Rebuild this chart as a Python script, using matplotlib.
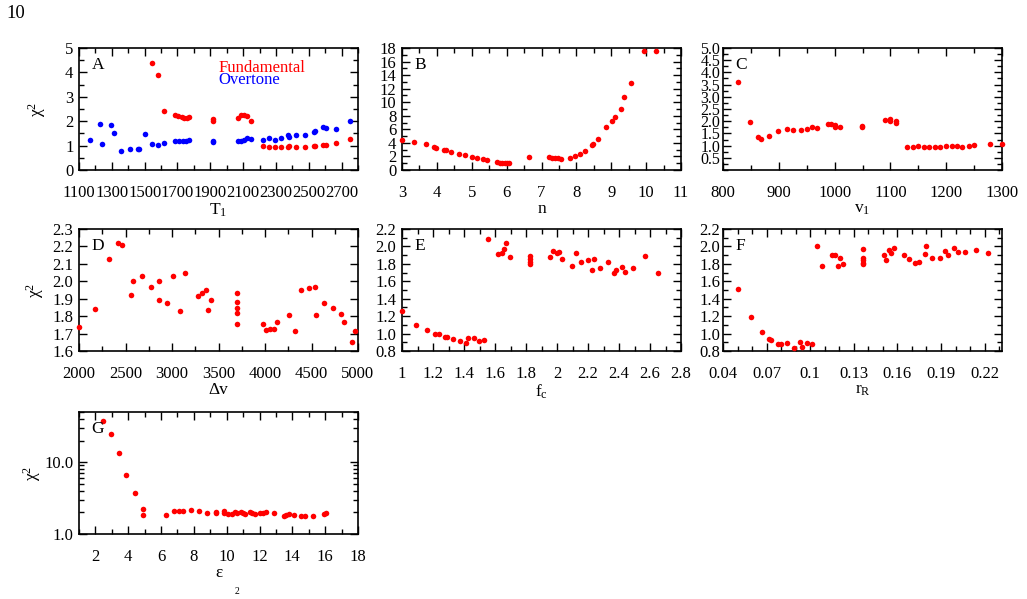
import numpy as np
import matplotlib
matplotlib.use("Agg")
import matplotlib.pyplot as plt
from matplotlib.ticker import MultipleLocator, FixedLocator, LogLocator, NullFormatter, FixedFormatter

plt.rcParams['font.family'] = ['Liberation Serif', 'DejaVu Serif']
plt.rcParams['mathtext.fontset'] = 'custom'
plt.rcParams['mathtext.rm'] = 'Liberation Serif'
plt.rcParams['mathtext.it'] = 'Liberation Serif:italic'
plt.rcParams['mathtext.default'] = 'rm'

# panel A: T1
a_blue_x = [1167, 1226, 1242, 1294, 1314, 1355, 1412, 1457, 1467, 1502, 1542, 1583, 1616,
            1685, 1711, 1734, 1752, 1768, 1919, 1919, 2068, 2088, 2104, 2124, 2149, 2220,
            2255, 2294, 2333, 2374, 2380, 2421, 2476, 2529, 2541, 2588, 2608, 2663, 2751]
a_blue_y = [1.25, 1.87, 1.07, 1.83, 1.50, 0.76, 0.85, 0.88, 0.86, 1.48, 1.07, 1.03, 1.10,
            1.18, 1.18, 1.20, 1.18, 1.21, 1.18, 1.15, 1.17, 1.20, 1.22, 1.30, 1.27, 1.25,
            1.30, 1.25, 1.33, 1.42, 1.35, 1.43, 1.45, 1.55, 1.60, 1.75, 1.73, 1.68, 2.02]
a_red_x = [1542, 1583, 1616, 1685, 1705, 1725, 1742, 1758, 1772, 1919, 1919, 2068, 2088,
           2104, 2124, 2149, 2220, 2255, 2294, 2333, 2374, 2380, 2421, 2476, 2529, 2541,
           2588, 2608, 2663, 2751]
a_red_y = [4.38, 3.88, 2.40, 2.25, 2.20, 2.17, 2.15, 2.15, 2.18, 2.07, 2.01, 2.15, 2.25,
           2.24, 2.20, 1.99, 0.98, 0.96, 0.94, 0.94, 0.95, 0.97, 0.96, 0.96, 0.98, 1.00,
           1.04, 1.04, 1.10, 1.27]
a_ticks = [1100, 1300, 1500, 1700, 1900, 2100, 2300, 2500, 2700]

# panel B: n
b_x = [3.0, 3.35, 3.69, 3.91, 3.98, 4.19, 4.25, 4.41, 4.64, 4.82, 5.0, 5.15, 5.31, 5.44,
       5.72, 5.80, 5.88, 5.94, 6.01, 6.06, 6.64, 7.22, 7.30, 7.39, 7.47, 7.56, 7.82, 7.95,
       8.11, 8.26, 8.44, 8.47, 8.63, 8.85, 9.03, 9.10, 9.28, 9.37, 9.58, 9.93, 10.28]
b_y = [4.42, 4.07, 3.77, 3.42, 3.30, 3.00, 2.90, 2.70, 2.40, 2.15, 1.90, 1.70, 1.55, 1.45,
       1.15, 1.10, 1.05, 1.05, 1.05, 1.10, 1.90, 1.85, 1.70, 1.75, 1.70, 1.60, 1.80, 2.10,
       2.35, 2.85, 3.70, 3.80, 4.60, 6.40, 7.30, 7.85, 9.05, 10.7, 12.8, 17.5, 17.6]

# panel C: v1
c_x = [826, 849, 863, 868, 882, 899, 914, 926, 939, 950, 959, 968, 988, 994, 1000, 1000,
       1010, 1049, 1049, 1090, 1099, 1099, 1110, 1110, 1130, 1140, 1149, 1160, 1170, 1180,
       1189, 1199, 1210, 1220, 1229, 1240, 1249, 1279, 1300]
c_y = [3.59, 1.97, 1.36, 1.28, 1.40, 1.61, 1.68, 1.64, 1.64, 1.68, 1.77, 1.73, 1.87, 1.90,
       1.86, 1.77, 1.77, 1.80, 1.75, 2.04, 2.10, 2.02, 1.99, 1.92, 0.95, 0.95, 0.98, 0.93,
       0.96, 0.93, 0.93, 0.98, 0.98, 0.98, 0.95, 1.00, 1.03, 1.06, 1.07]

# panel D: delta v
d_x = [2005, 2172, 2322, 2422, 2465, 2555, 2584, 2673, 2770, 2859, 2863, 2945, 3010, 3081,
       3139, 3282, 3318, 3361, 3389, 3418, 3704, 3704, 3704, 3704, 3704, 3980, 4009, 4052,
       4095, 4130, 4259, 4320, 4392, 4470, 4542, 4546, 4632, 4728, 4821, 4846, 4932, 4972]
d_y = [1.735, 1.842, 2.126, 2.217, 2.209, 1.919, 2.000, 2.029, 1.966, 1.892, 2.004, 1.875,
       2.029, 1.830, 2.047, 1.915, 1.933, 1.948, 1.836, 1.892, 1.935, 1.884, 1.844, 1.820,
       1.753, 1.757, 1.720, 1.724, 1.724, 1.764, 1.807, 1.714, 1.950, 1.962, 1.968, 1.807,
       1.875, 1.848, 1.811, 1.766, 1.652, 1.716]

# panel E: fc
e_x = [1.0, 1.09, 1.164, 1.214, 1.236, 1.276, 1.289, 1.326, 1.372, 1.415, 1.425, 1.464,
       1.495, 1.529, 1.555, 1.622, 1.644, 1.657, 1.674, 1.695, 1.825, 1.825, 1.825, 1.825,
       1.957, 1.976, 1.998, 2.015, 2.035, 2.097, 2.123, 2.158, 2.197, 2.227, 2.24, 2.279,
       2.328, 2.367, 2.38, 2.419, 2.438, 2.49, 2.568, 2.652]
e_y = [1.26, 1.10, 1.04, 0.99, 1.00, 0.96, 0.955, 0.935, 0.915, 0.89, 0.946, 0.95, 0.91,
       0.927, 2.085, 1.91, 1.92, 1.97, 2.04, 1.88, 1.895, 1.86, 1.825, 1.80, 1.88, 1.946,
       1.927, 1.938, 1.854, 1.777, 1.927, 1.823, 1.85, 1.727, 1.854, 1.75, 1.82, 1.696,
       1.727, 1.765, 1.71, 1.75, 1.892, 1.70]

# panel F: rR
f_x = [0.0503, 0.059, 0.0667, 0.0715, 0.0733, 0.0781, 0.0802, 0.0841, 0.0891, 0.0932,
       0.0941, 0.0976, 0.1014, 0.1049, 0.1081, 0.1149, 0.117, 0.1188, 0.1206, 0.1225,
       0.1364, 0.1364, 0.1364, 0.1364, 0.1364, 0.1508, 0.1522, 0.1542, 0.1558, 0.1577,
       0.1649, 0.1679, 0.1718, 0.1752, 0.1789, 0.1798, 0.1837, 0.1892, 0.193, 0.1946,
       0.1992, 0.2015, 0.2063, 0.2143, 0.2227]
f_y = [1.51, 1.194, 1.013, 0.943, 0.924, 0.881, 0.881, 0.893, 0.831, 0.90, 0.846, 0.893,
       0.881, 2.003, 1.775, 1.906, 1.898, 1.775, 1.867, 1.798, 1.976, 1.863, 1.84, 1.813,
       1.794, 1.902, 1.84, 1.96, 1.925, 1.987, 1.906, 1.852, 1.805, 1.825, 1.918, 2.0,
       1.867, 1.867, 1.945, 1.902, 1.983, 1.933, 1.937, 1.964, 1.925]
f_ticks = [0.04, 0.07, 0.1, 0.13, 0.16, 0.19, 0.22]
f_labels = ['0.04', '0.07', '0.1', '0.13', '0.16', '0.19', '0.22']

# panel G: epsilon
g_x = [2.44, 2.92, 3.42, 3.89, 4.39, 4.89, 4.89, 6.31, 6.81, 7.11, 7.31, 7.82, 8.30, 8.82,
       9.32, 9.32, 9.82, 9.82, 10.08, 10.34, 10.48, 10.62, 10.88, 11.02, 11.12, 11.43, 11.57,
       11.73, 12.03, 12.23, 12.39, 12.87, 13.47, 13.63, 13.79, 14.09, 14.5, 14.78, 15.28,
       15.94, 16.04]
g_y = [37.6, 24.4, 13.4, 6.55, 3.72, 2.21, 1.86, 1.84, 2.12, 2.12, 2.12, 2.16, 2.12, 1.94,
       2.00, 1.94, 2.07, 1.94, 1.90, 1.92, 2.00, 1.98, 2.00, 1.96, 1.92, 2.05, 1.96, 1.88,
       1.94, 1.96, 2.00, 1.94, 1.80, 1.84, 1.90, 1.84, 1.80, 1.80, 1.80, 1.90, 1.94]

W, H = 1027, 599
fig = plt.figure(figsize=(W / 100, H / 100), dpi=100)

col_left = [79, 402, 723]
row_top = [48, 229, 412]
aw, ah = 279, 122


def make_ax(col, row):
    left = col_left[col] / W
    bottom = 1 - (row_top[row] + ah) / H
    ax = fig.add_axes([left, bottom, aw / W, ah / H])
    ax.tick_params(which='both', direction='in', top=True, right=True, labelsize=12,
                   width=1.0)
    ax.tick_params(which='major', length=6)
    ax.tick_params(which='minor', length=3.5)
    ax.tick_params(axis='x', pad=11)
    ax.tick_params(axis='y', pad=4)
    for s in ax.spines.values():
        s.set_linewidth(1.2)
    return ax


def dots(ax, x, y, color='#ff0000'):
    ax.scatter(x, y, s=16, color=color, linewidths=0, zorder=3, clip_on=False)


def letter(ax, txt):
    ax.text(0.045, 0.93, txt, transform=ax.transAxes, fontsize=12.5, va='top', ha='left')


# A
ax = make_ax(0, 0)
dots(ax, a_blue_x, a_blue_y, '#0000ff')
dots(ax, a_red_x, a_red_y)
ax.set_xlim(1100, 2800)
ax.set_ylim(0, 5)
ax.xaxis.set_major_locator(FixedLocator(a_ticks))
ax.xaxis.set_minor_locator(MultipleLocator(100))
ax.yaxis.set_major_locator(MultipleLocator(1))
ax.yaxis.set_minor_locator(MultipleLocator(0.5))
ax.set_xlabel('T$_1$', fontsize=12.5, labelpad=0)
ax.set_ylabel('χ$^2$', fontsize=12.5, labelpad=12)
letter(ax, 'A')
ax.text(0.5, 0.84, 'Fundamental', color='#ff0000', transform=ax.transAxes, fontsize=12,
        va='center')
ax.text(0.5, 0.735, 'Overtone', color='#0000ff', transform=ax.transAxes, fontsize=12,
        va='center')

# B
ax = make_ax(1, 0)
dots(ax, b_x, b_y)
ax.set_xlim(3, 11)
ax.set_ylim(0, 18)
ax.xaxis.set_major_locator(MultipleLocator(1))
ax.xaxis.set_minor_locator(MultipleLocator(0.5))
ax.yaxis.set_major_locator(MultipleLocator(2))
ax.yaxis.set_minor_locator(MultipleLocator(1))
ax.set_xlabel('n', fontsize=12.5, labelpad=0)
letter(ax, 'B')

# C
ax = make_ax(2, 0)
dots(ax, c_x, c_y)
ax.set_xlim(800, 1300)
ax.set_ylim(0, 5)
ax.xaxis.set_major_locator(MultipleLocator(100))
ax.xaxis.set_minor_locator(MultipleLocator(50))
c_yt = np.arange(0.5, 5.01, 0.5)
ax.yaxis.set_major_locator(FixedLocator(c_yt))
ax.yaxis.set_major_formatter(FixedFormatter(['%.1f' % v for v in c_yt]))
ax.yaxis.set_minor_locator(MultipleLocator(0.25))
ax.tick_params(axis='y', pad=2, labelsize=11.5)
ax.set_xlabel('v$_1$', fontsize=12.5, labelpad=0)
letter(ax, 'C')

# D
ax = make_ax(0, 1)
dots(ax, d_x, d_y)
ax.set_xlim(2000, 5000)
ax.set_ylim(1.6, 2.3)
ax.xaxis.set_major_locator(MultipleLocator(500))
ax.xaxis.set_minor_locator(MultipleLocator(250))
ax.yaxis.set_major_locator(MultipleLocator(0.1))
ax.yaxis.set_major_formatter(plt.FormatStrFormatter('%.1f'))
ax.set_xlabel('Δv', fontsize=12.5, labelpad=0)
ax.set_ylabel('χ$^2$', fontsize=12.5, labelpad=5)
letter(ax, 'D')

# E
ax = make_ax(1, 1)
dots(ax, e_x, e_y)
ax.set_xlim(1, 2.8)
ax.set_ylim(0.8, 2.2)
ax.xaxis.set_major_locator(MultipleLocator(0.2))
ax.xaxis.set_major_formatter(plt.FuncFormatter(lambda v, p: ('%.1f' % v).rstrip('0').rstrip('.')))
ax.xaxis.set_minor_locator(MultipleLocator(0.1))
ax.yaxis.set_major_locator(MultipleLocator(0.2))
ax.yaxis.set_major_formatter(plt.FormatStrFormatter('%.1f'))
ax.yaxis.set_minor_locator(MultipleLocator(0.1))
ax.set_xlabel('f$_c$', fontsize=12.5, labelpad=0)
letter(ax, 'E')

# F
ax = make_ax(2, 1)
dots(ax, f_x, f_y)
ax.set_xlim(0.04, 0.232)
ax.set_ylim(0.8, 2.2)
ax.xaxis.set_major_locator(FixedLocator(f_ticks))
ax.xaxis.set_major_formatter(FixedFormatter(f_labels))
ax.xaxis.set_minor_locator(FixedLocator(np.arange(0.05, 0.232, 0.01)))
ax.yaxis.set_major_locator(MultipleLocator(0.2))
ax.yaxis.set_major_formatter(plt.FormatStrFormatter('%.1f'))
ax.yaxis.set_minor_locator(MultipleLocator(0.1))
ax.tick_params(axis='y', pad=2)
ax.set_xlabel('r$_R$', fontsize=12.5, labelpad=0)
letter(ax, 'F')

# G
ax = make_ax(0, 2)
dots(ax, g_x, g_y)
ax.set_yscale('log')
ax.set_xlim(1, 18)
ax.set_ylim(1, 50)
ax.xaxis.set_major_locator(MultipleLocator(2))
ax.xaxis.set_minor_locator(MultipleLocator(1))
ax.yaxis.set_major_locator(FixedLocator([1, 10]))
ax.yaxis.set_major_formatter(FixedFormatter(['1.0', '10.0']))
ax.yaxis.set_minor_locator(LogLocator(base=10, subs=np.arange(2, 10)))
ax.yaxis.set_minor_formatter(NullFormatter())
ax.set_xlabel('ε', fontsize=12.5, labelpad=0)
ax.set_ylabel('χ$^2$', fontsize=12.5, labelpad=1)
letter(ax, 'G')

fig.text(6 / W, 1 - 14 / H, '10', fontsize=13.5, va='center', ha='left')
fig.text(237 / W, 1 - 592 / H, '2', fontsize=7, va='center', ha='center')

fig.savefig('out.png', dpi=100)
